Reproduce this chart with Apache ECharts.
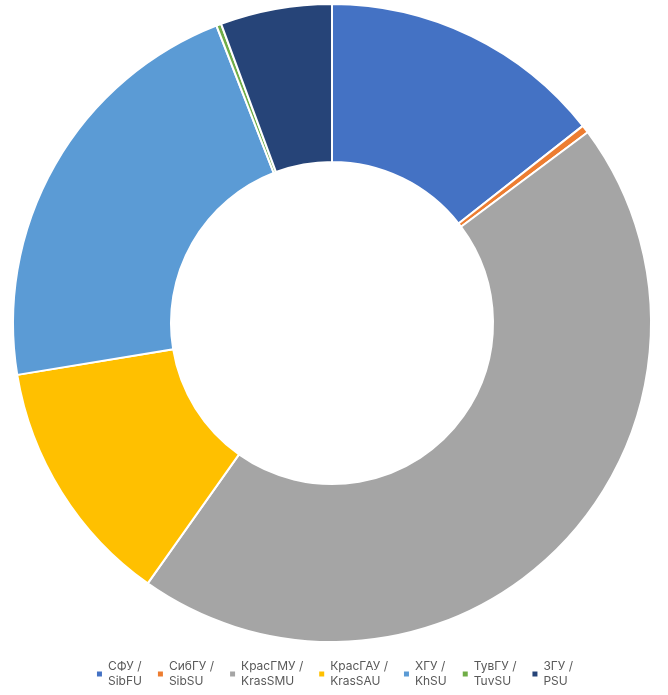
<!DOCTYPE html>
<html>
<head>
<meta charset="utf-8">
<script src="https://cdn.jsdelivr.net/npm/echarts@6/dist/echarts.min.js"></script>
<style>
  html, body { margin: 0; padding: 0; background: #fff; }
  #chart { width: 668px; height: 695px; }
</style>
</head>
<body>
<div id="chart"></div>
<script>
// данные
const names = ['СФУ /\nSibFU', 'СибГУ /\nSibSU', 'КрасГМУ /\nKrasSMU', 'КрасГАУ /\nKrasSAU', 'ХГУ /\nKhSU', 'ТувГУ /\nTuvSU', 'ЗГУ /\nPSU'];
const values = [14.4, 0.4, 45.0, 12.6, 21.7, 0.25, 5.65];
const colors = ['#4472C4', '#ED7D31', '#A5A5A5', '#FFC000', '#5B9BD5', '#70AD47', '#264478'];

const chart = echarts.init(document.getElementById('chart'));

chart.setOption({
    color: colors,
    animation: false,
    legend: {
        bottom: 1,
        left: 'center',
        itemWidth: 7,
        itemHeight: 7,
        itemGap: 14,
        icon: 'rect',
        textStyle: {
            fontFamily: 'Inter',
            fontSize: 12,
            color: '#595959',
            lineHeight: 15
        },
        data: names
    },
    series: [{
        type: 'pie',
        center: [332, 323],
        radius: [161, 319],
        startAngle: 90,
        clockwise: true,
        label: { show: false },
        labelLine: { show: false },
        itemStyle: {
            borderColor: '#fff',
            borderWidth: 2
        },
        emphasis: { disabled: true },
        data: names.map((n, i) => ({ name: n, value: values[i] }))
    }]
});
</script>
</body>
</html>
